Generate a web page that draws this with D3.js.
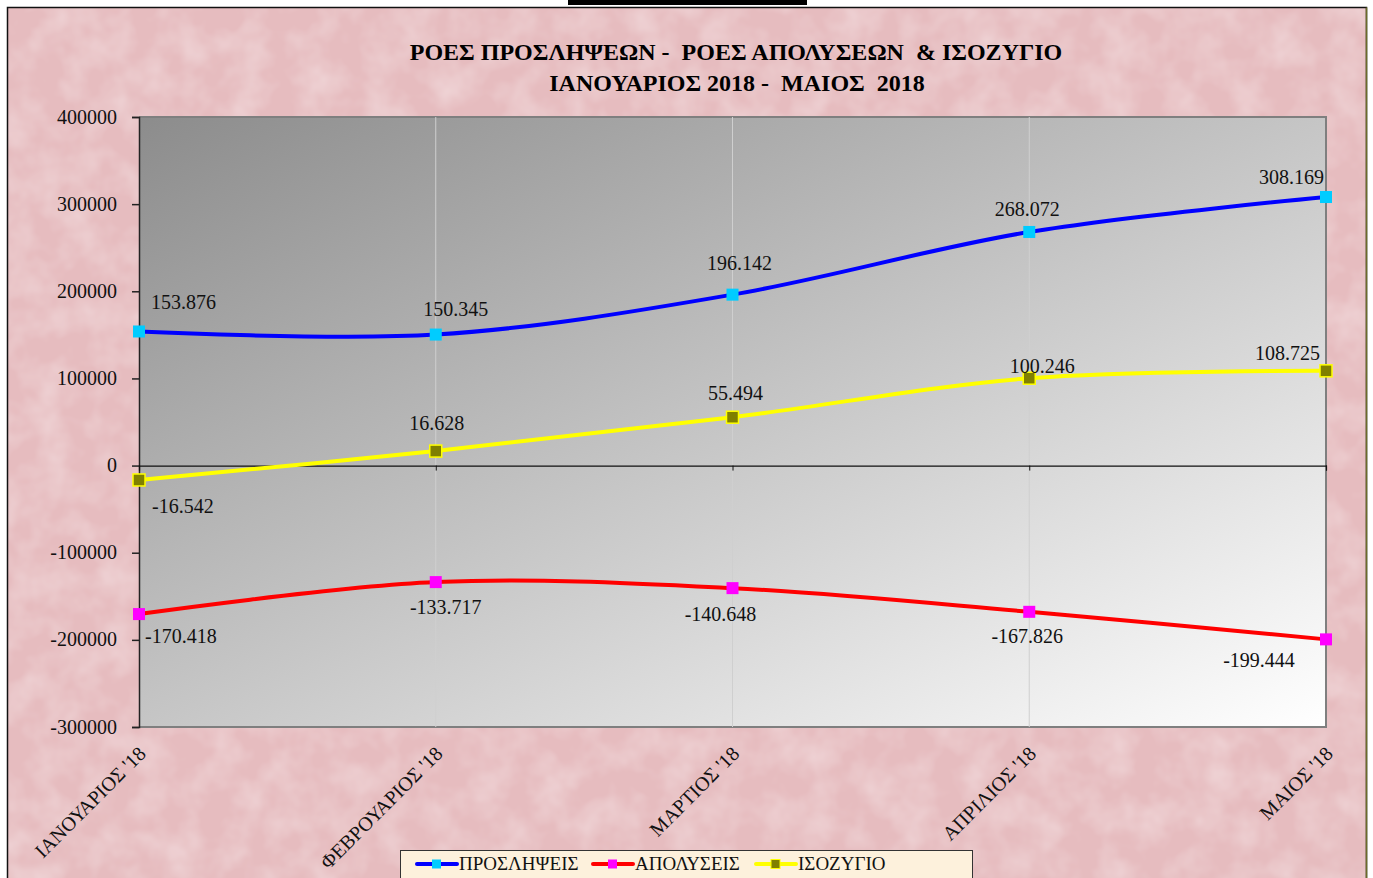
<!DOCTYPE html>
<html>
<head>
  <meta charset="utf-8">
  <title>Ροές</title>
  <style>
    body { margin: 0; background: #fff; }
    svg { display: block; font-family: "Liberation Serif", "DejaVu Serif", serif; }
    text { white-space: pre; }
  </style>
</head>
<body>
  <svg></svg>
  <script src="https://cdnjs.cloudflare.com/ajax/libs/d3/7.8.5/d3.min.js"></script>
  <script>
    var months = ["ΙΑΝΟΥΑΡΙΟΣ '18", "ΦΕΒΡΟΥΑΡΙΟΣ '18", "ΜΑΡΤΙΟΣ '18", "ΑΠΡΙΛΙΟΣ '18", "ΜΑΙΟΣ '18"];
    var hires = [153876, 150345, 196142, 268072, 308169];
    var layoffs = [-170418, -133717, -140648, -167826, -199444];
    var balance = [-16542, 16628, 55494, 100246, 108725];
    var yTicks = [400000, 300000, 200000, 100000, 0, -100000, -200000, -300000];
    var seriesNames = ["ΠΡΟΣΛΗΨΕΙΣ", "ΑΠΟΛΥΣΕΙΣ", "ΙΣΟΖΥΓΙΟ"];

    var width = 1373, height = 878;
    var pLeft = 139, pRight = 1326, pTop = 117, pBottom = 727;

    var svg = d3.select("svg").attr("width", width).attr("height", height);
    var defs = svg.append("defs");

    // pinkish paper texture
    var f = defs.append("filter").attr("id", "paper").attr("x", 0).attr("y", 0).attr("width", "100%").attr("height", "100%");
    f.append("feTurbulence").attr("type", "fractalNoise").attr("baseFrequency", 0.03).attr("numOctaves", 3).attr("seed", 4).attr("result", "n");
    f.append("feColorMatrix").attr("in", "n").attr("type", "matrix")
      .attr("values", "0 0 0 0 0.95  0 0 0 0 0.85  0 0 0 0 0.86  0 0 0 0.7 -0.25");
    f.append("feComposite").attr("in2", "SourceGraphic").attr("operator", "over");

    var g = defs.append("linearGradient").attr("id", "plotbg")
      .attr("x1", "0%").attr("y1", "0%").attr("x2", "100%").attr("y2", "100%");
    g.append("stop").attr("offset", "0%").attr("stop-color", "#8c8c8c");
    g.append("stop").attr("offset", "100%").attr("stop-color", "#ffffff");

    svg.append("rect").attr("width", width).attr("height", height).attr("fill", "#ffffff");
    svg.append("rect").attr("x", 8).attr("y", 8).attr("width", 1358).attr("height", height)
      .attr("fill", "#e6bcbf").attr("filter", "url(#paper)");
    svg.append("path").attr("d", "M7.5," + height + "V7.5H1366.5V" + height)
      .attr("fill", "none").attr("stroke", "#111").attr("stroke-width", 1.5);
    svg.append("path").attr("d", "M1366.5,7.5V" + height).attr("stroke", "#6b6b2a").attr("stroke-width", 1.5);
    svg.append("rect").attr("x", 568).attr("y", 0).attr("width", 239).attr("height", 5).attr("fill", "#000");

    // titles
    svg.append("text").attr("x", 736).attr("y", 60).attr("text-anchor", "middle")
      .attr("font-size", 24).attr("font-weight", "bold")
      .text("ΡΟΕΣ ΠΡΟΣΛΗΨΕΩΝ -  ΡΟΕΣ ΑΠΟΛΥΣΕΩΝ  & ΙΣΟΖΥΓΙΟ");
    svg.append("text").attr("x", 737).attr("y", 91).attr("text-anchor", "middle")
      .attr("font-size", 24).attr("font-weight", "bold")
      .text("ΙΑΝΟΥΑΡΙΟΣ 2018 -  ΜΑΙΟΣ  2018");

    var x = d3.scalePoint().domain(months).range([pLeft, pRight]);
    var y = d3.scaleLinear().domain([-300000, 400000]).range([pBottom, pTop]);

    var loc = d3.formatLocale({ decimal: ",", thousands: ".", grouping: [3], currency: ["", "€"], minus: "-" });
    var fmt = loc.format(",d");

    // plot area
    svg.append("rect").attr("x", pLeft).attr("y", pTop).attr("width", pRight - pLeft).attr("height", pBottom - pTop)
      .attr("fill", "url(#plotbg)");
    svg.append("path").attr("d", "M" + pLeft + "," + pTop + "H" + pRight + "V" + pBottom + "H" + pLeft)
      .attr("fill", "none").attr("stroke", "#7f7f7f").attr("stroke-width", 2);

    svg.append("g").selectAll("line").data(months.slice(1, -1)).join("line")
      .attr("x1", d => x(d)).attr("x2", d => x(d)).attr("y1", pTop).attr("y2", pBottom)
      .attr("stroke", "#cfcfcf").attr("stroke-width", 1);

    // y axis
    var yAxis = svg.append("g").attr("transform", "translate(" + pLeft + ",0)")
      .call(d3.axisLeft(y).tickValues(yTicks).tickSize(7).tickPadding(15).tickFormat(loc.format("d")));
    yAxis.select(".domain").attr("stroke", "#222").attr("stroke-width", 1.5);
    yAxis.selectAll(".tick line").attr("stroke", "#222").attr("stroke-width", 1.5);
    yAxis.selectAll("text").attr("font-size", 20).attr("fill", "#111")
      .attr("font-family", "Liberation Serif, serif").attr("dy", "0.3em");

    // zero line with ticks
    var xAxis = svg.append("g").attr("transform", "translate(0," + y(0) + ")")
      .call(d3.axisBottom(x).tickSize(5).tickFormat(""));
    xAxis.select(".domain").attr("stroke", "#111").attr("stroke-width", 1.2);
    xAxis.selectAll(".tick line").attr("stroke", "#111");

    // rotated category labels
    svg.append("g").selectAll("text").data(months).join("text")
      .attr("transform", d => "translate(" + (x(d) + 8) + ",755) rotate(-45)")
      .attr("text-anchor", "end").attr("font-size", 20).attr("fill", "#111")
      .text(d => d);

    var series = [
      { name: seriesNames[0], values: hires, line: "#0000ff", mark: "#00ccff", edge: "#00ccff" },
      { name: seriesNames[1], values: layoffs, line: "#ff0000", mark: "#ff00ff", edge: "#ff00ff" },
      { name: seriesNames[2], values: balance, line: "#ffff00", mark: "#808000", edge: "#ffff00" }
    ];

    // label offsets [dx, dy, anchor] relative to each point
    var labelPlace = [
      [[12, -22, "start"], [20, -19, "middle"], [7, -25, "middle"], [-2, -16, "middle"], [-2, -13, "end"]],
      [[6, 29, "start"], [10, 32, "middle"], [-12, 33, "middle"], [-2, 31, "middle"], [-67, 28, "middle"]],
      [[13, 33, "start"], [1, -21, "middle"], [3, -17, "middle"], [13, -5, "middle"], [-6, -11, "end"]]
    ];

    var line = d3.line().x((d, i) => x(months[i])).y(d => y(d)).curve(d3.curveCatmullRom.alpha(0.5));

    series.forEach(function (s, si) {
      svg.append("path").datum(s.values).attr("d", line)
        .attr("fill", "none").attr("stroke", s.line).attr("stroke-width", 4);
      svg.append("g").selectAll("rect").data(s.values).join("rect")
        .attr("x", (d, i) => x(months[i]) - 6).attr("y", d => y(d) - 6)
        .attr("width", 12).attr("height", 12)
        .attr("fill", s.mark).attr("stroke", s.edge).attr("stroke-width", si == 2 ? 1.5 : 0);
      svg.append("g").selectAll("text").data(s.values).join("text")
        .attr("x", (d, i) => x(months[i]) + labelPlace[si][i][0])
        .attr("y", (d, i) => y(d) + labelPlace[si][i][1])
        .attr("text-anchor", (d, i) => labelPlace[si][i][2])
        .attr("font-size", 20).attr("fill", "#111")
        .text(d => fmt(d));
    });

    // legend
    var lg = svg.append("g").attr("transform", "translate(400,850)");
    lg.append("rect").attr("x", 0.5).attr("y", 0.5).attr("width", 572).attr("height", 40)
      .attr("fill", "#fdf1dc").attr("stroke", "#333").attr("stroke-width", 1);
    var itemX = [16, 192, 355];
    series.forEach(function (s, i) {
      var it = lg.append("g").attr("transform", "translate(" + itemX[i] + ",0)");
      it.append("line").attr("x1", 1).attr("x2", 41).attr("y1", 14).attr("y2", 14)
        .attr("stroke", s.line).attr("stroke-width", 4).attr("stroke-linecap", "round");
      it.append("rect").attr("x", 16).attr("y", 9.5).attr("width", 9).attr("height", 9)
        .attr("fill", s.mark).attr("stroke", s.edge).attr("stroke-width", i == 2 ? 1 : 0);
      it.append("text").attr("x", 43).attr("y", 20).attr("font-size", 19).attr("fill", "#111").text(s.name);
    });
  </script>
</body>
</html>
